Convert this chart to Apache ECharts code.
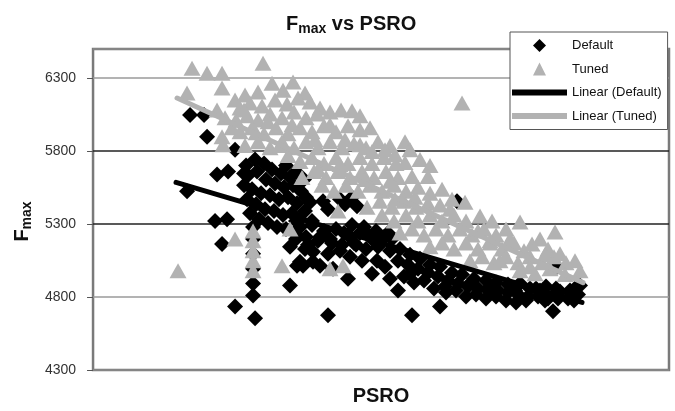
<!DOCTYPE html>
<html>
<head>
<meta charset="utf-8">
<script src="https://cdn.jsdelivr.net/npm/echarts@6/dist/echarts.min.js"></script>
<style>html,body{margin:0;padding:0;background:#fff}#c{width:675px;height:411px}</style>
</head>
<body>
<div id="c"></div>
<script>
// PSRO on an arbitrary (unlabelled) scale 0..576, Fmax values
const seriesNames = ['Default', 'Tuned', 'Linear (Default)', 'Linear (Tuned)'];
const yTickValues = [4300, 4800, 5300, 5800, 6300];

const defaultPts = [
  [94,5525],[97,6048],[111,6048],[114,5899],[142,5810],[124,5640],[135,5661],[122,5321],[134,5334],[129,5164],
  [142,4736],[162,4654],[160,4811],[160,4892],[160,4994],[160,5096],[160,5198],[160,5280],[197,4879],[197,5144],
  [204,5015],[212,5130],[207,5042],[220,5042],[235,5096],[230,5457],[235,5402],[220,5110],[210,5015],[227,5015],
  [240,4994],[255,4926],[257,5076],[269,5049],[284,5049],[297,4926],[305,4845],[235,4675],[319,4675],[347,4736],
  [279,4960],[292,5008],[364,5457],[464,5008],[487,4879],[460,4702],[217,5450],[247,5470],[259,5484],[264,5423],[252,5436],
  [153,5702],[162,5742],[171,5715],[179,5674],[188,5647],[197,5620],[155,5634],[164,5661],[173,5606],[182,5579],
  [191,5552],[200,5566],[208,5525],[151,5566],[159,5538],[168,5511],[177,5498],[186,5470],[195,5484],[204,5443],
  [154,5470],[163,5436],[172,5402],[181,5389],[190,5362],[199,5375],[207,5334],[157,5375],[166,5334],[175,5307],
  [184,5280],[193,5266],[202,5239],[212,5389],[219,5321],
  [151,5647],[193,5702],[203,5661],[211,5606],[213,5484],
  [207,5280],[219,5294],[231,5253],[243,5266],[255,5226],[267,5239],[279,5198],[291,5212],[213,5212],[225,5185],
  [237,5198],[249,5158],[261,5171],[273,5130],[285,5144],[297,5117],
  [203,5198],[215,5158],[227,5212],[239,5171],[251,5239],[263,5158],[275,5226],[287,5171],[299,5198],
  [203,5321],[259,5294],[271,5280],[283,5253],[295,5239],[247,5117],
  [307,5130],[317,5090],[327,5062],[337,5022],[347,5008],[359,4967],[369,4954],[381,4926],[393,4913],[403,4899],
  [415,4886],[437,4858],[467,4838],[481,4777],
  [317,4960],[352,4872],[377,4892],[397,4872],[422,4845],[447,4845],[462,4818],[482,4858],
  [305,5049],[315,5022],[325,4994],[335,4967],[345,4940],[355,4913],[365,4892],[375,4872],[385,4858],[395,4845],
  [405,4845],[415,4831],[425,4818],[435,4804],[445,4804],[455,4790],[465,4790],[475,4790],[311,4940],[321,4899],
  [331,4913],[341,4858],[353,4831],[363,4845],[373,4804],[383,4818],[393,4790],[403,4804],[413,4777],[423,4763],
  [433,4777],[443,4858],[453,4872],[463,4858],[477,4845],[485,4818],[427,4892],[452,4777]
];

const tunedPts = [
  [85,4981],[99,6368],[114,6334],[129,6334],[170,6402],[94,6198],[129,6232],[142,6150],[179,6266],[124,6082],
  [132,6028],[129,5899],[130,5844],[139,5960],[369,6130],[160,5253],[160,5185],[160,5117],[160,5049],[160,4981],
  [142,5198],[189,5015],[197,5266],[237,4994],[250,5015],
  [152,6184],[165,6205],[190,6218],[200,6273],[212,6198],
  [147,6096],[157,6130],[169,6110],[182,6150],[194,6123],[205,6164],[217,6137],[227,6096],
  [143,6014],[154,6042],[165,6014],[177,6055],[189,6028],[201,6069],[213,6028],[224,6055],[237,6069],[248,6082],[259,6076],[267,6042],
  [147,5933],[159,5960],[171,5919],[183,5960],[195,5919],[207,5960],[219,5933],[231,5974],[243,5933],[255,5974],[267,5946],[277,5960],
  [152,5838],[165,5865],[177,5824],[189,5865],[201,5824],[213,5865],[225,5824],[237,5865],[249,5824],[261,5851],[273,5824],[285,5865],[297,5838],[312,5865],
  [207,5729],[219,5756],[231,5715],[243,5756],[255,5715],[267,5756],[279,5715],[291,5756],[303,5715],[312,5722],[327,5742],[337,5702],[195,5770],
  [209,5620],[221,5661],[233,5620],[245,5661],[257,5620],[269,5661],[281,5620],[293,5661],[305,5620],[319,5627],[335,5627],
  [229,5566],[241,5525],[253,5566],[265,5525],[277,5566],[289,5525],[301,5566],[313,5525],[325,5552],[337,5511],[349,5538],
  [245,5389],[274,5416],[287,5457],[299,5416],[311,5457],[323,5416],[335,5443],[347,5430],[359,5470],[372,5450],
  [289,5362],[301,5321],[313,5362],[325,5321],[337,5362],[349,5321],[361,5362],[373,5321],[387,5355],[399,5321],
  [307,5239],[319,5266],[331,5226],[343,5266],[355,5226],[367,5266],[379,5226],[391,5266],[403,5226],[413,5266],[427,5314],
  [337,5144],[349,5171],[361,5130],[373,5171],[385,5130],[397,5171],[409,5130],[421,5171],[439,5164],[455,5130],[462,5246],[431,5117],
  [377,5049],[389,5076],[401,5035],[413,5076],[425,5035],[437,5076],[449,5035],[461,5076],[473,5035],
  [427,4981],[442,4960],[457,4994],[472,4954],[487,4981],
  [322,5484],[302,5470],[357,5402],[385,5253],[397,5185],[417,5198],[447,5198],[467,5096],[407,5049],[437,5008],
  [452,5090],[482,5049],[151,6082],[163,5926],[175,6001],[187,5838],[199,5980],[222,5878],[237,5980],[252,5878],
  [267,5844],[279,5797],[292,5810],[302,5776],[317,5810],[225,5674],[247,5708],[272,5606],[297,5593]
];

const trendDefault = [[83,5586],[489,4763]];
const trendTuned = [[84,6164],[490,4899]];

const chart = echarts.init(document.getElementById('c'), null, {renderer: 'canvas'});
const gridColors = ['#8a8a8a', '#9a9a9a', '#222', '#222', '#9a9a9a', '#8a8a8a'];

chart.setOption({
  animation: false,
  backgroundColor: '#fff',
  title: {
    left: 281, top: 9,
    text: '{a|F}{b|max}{a| vs PSRO}',
    textStyle: {
      rich: {
        a: {fontFamily: 'Liberation Sans', fontSize: 20, fontWeight: 'bold', color: '#111', lineHeight: 22, verticalAlign: 'top'},
        b: {fontFamily: 'Liberation Sans', fontSize: 14, fontWeight: 'bold', color: '#111', lineHeight: 14, padding: [12,0,0,0], verticalAlign: 'bottom'}
      }
    }
  },
  legend: {
    orient: 'vertical',
    left: 510, top: 32,
    padding: [7, 6, 7, 2],
    itemWidth: 55, itemHeight: 13, itemGap: 10.5,
    symbolKeepAspect: true,
    backgroundColor: '#fff',
    borderColor: '#555', borderWidth: 1, borderRadius: 0,
    textStyle: {fontFamily: 'Liberation Sans', fontSize: 13, color: '#111'},
    itemStyle: {borderWidth: 0},
    selectedMode: false,
    data: [
      {name: seriesNames[0], icon: 'path://M0,-1L1,0L0,1L-1,0Z'},
      {name: seriesNames[1], icon: 'path://M0,-1L1,1L-1,1Z'},
      {name: seriesNames[2], icon: 'path://M0,0L110,0L110,12L0,12Z'},
      {name: seriesNames[3], icon: 'path://M0,0L110,0L110,12L0,12Z'}
    ]
  },
  grid: {
    left: 93, right: 6, top: 49, bottom: 39,
    show: true, borderColor: '#7a7a7a', borderWidth: 2.5, backgroundColor: 'transparent'
  },
  xAxis: {
    type: 'value', min: 0, max: 576,
    name: 'PSRO', nameLocation: 'middle', nameGap: 16,
    nameTextStyle: {fontFamily: 'Liberation Sans', fontSize: 20, fontWeight: 'bold', color: '#111'},
    axisLine: {show: false}, axisTick: {show: false}, axisLabel: {show: false}, splitLine: {show: false}
  },
  yAxis: {
    type: 'value', min: yTickValues[0], max: 6500, interval: 500,
    name: '{a|F}{b|max}', nameLocation: 'middle', nameGap: 58, nameRotate: 90,
    nameTextStyle: {
      padding: [0, 24, 0, 0],
      rich: {
        a: {fontFamily: 'Liberation Sans', fontSize: 20, fontWeight: 'bold', color: '#111', lineHeight: 22, verticalAlign: 'top'},
        b: {fontFamily: 'Liberation Sans', fontSize: 14, fontWeight: 'bold', color: '#111', lineHeight: 14, padding: [12,0,0,0], verticalAlign: 'bottom'}
      }
    },
    axisLine: {show: false},
    axisTick: {show: true, length: 6, lineStyle: {color: '#555'}},
    axisLabel: {show: true, showMaxLabel: false, margin: 17, fontFamily: 'Liberation Sans', fontSize: 14, color: '#333',
      formatter: function (v) { return String(v); }},
    splitLine: {show: true, lineStyle: {color: gridColors, width: 1.5}}
  },
  series: [
    {name: seriesNames[0], type: 'scatter', data: defaultPts, symbol: 'diamond', symbolSize: 16,
     itemStyle: {color: '#000', opacity: 1}, silent: true},
    {name: seriesNames[1], type: 'scatter', data: tunedPts, symbol: 'triangle', symbolSize: [17, 15],
     itemStyle: {color: '#b2b2b2', opacity: 1}, silent: true},
    {name: seriesNames[2], type: 'line', data: trendDefault, symbol: 'none', color: '#000',
     lineStyle: {color: '#000', width: 5, cap: 'round'}, itemStyle: {color: '#000'}, silent: true},
    {name: seriesNames[3], type: 'line', data: trendTuned, symbol: 'none', color: '#b2b2b2',
     lineStyle: {color: '#b2b2b2', width: 5, cap: 'round'}, itemStyle: {color: '#b2b2b2'}, silent: true}
  ]
});
</script>
</body>
</html>
